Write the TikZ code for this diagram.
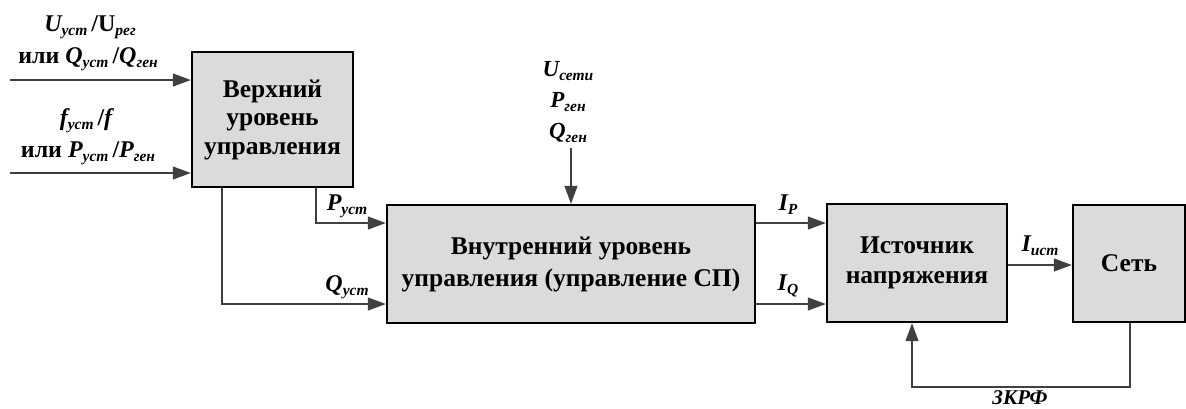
\documentclass[tikz,border=0pt]{standalone}
\usepackage{fontspec}
\setmainfont{LiberationSerif-Regular.ttf}[BoldFont=LiberationSerif-Bold.ttf,ItalicFont=LiberationSerif-Italic.ttf,BoldItalicFont=LiberationSerif-BoldItalic.ttf]
\usetikzlibrary{arrows.meta}
\newcommand{\lw}[1]{\raisebox{-0.35ex}{\fontsize{15.5}{15.5}\selectfont\bfseries\itshape #1}}
\begin{document}
\begin{tikzpicture}[x=1pt,y=-1pt,
  blk/.style={draw=black,line width=2.4pt,fill=black!14,align=center,inner sep=0pt,
    font=\fontsize{25.5}{30}\selectfont\bfseries},
  conn/.style={draw=black!75,line width=1.2pt},
  arr/.style={conn,-{Triangle[length=18pt,width=13pt]}},
  lbl/.style={align=center,inner sep=0pt,font=\fontsize{24}{31}\selectfont\bfseries\itshape}]
\useasboundingbox (0,0) rectangle (1186,408);
% blocks
\node[blk,minimum width=161pt,minimum height=135pt,font=\fontsize{25.5}{28.5}\selectfont\bfseries] (b1) at (272.5,119.5) {Верхний\\уровень\\управления};
\node[blk,minimum width=368pt,minimum height=118pt,font=\fontsize{25.5}{32}\selectfont\bfseries] (b2) at (571,264) {Внутренний уровень\\управления (управление СП)};
\node[blk,minimum width=180pt,minimum height=118pt] (b3) at (917,263) {Источник\\напряжения};
\node[blk,minimum width=112pt,minimum height=117pt] (b4) at (1129,263.5) {Сеть};
% inputs of b1
\coordinate (i1) at (10,80);
\coordinate (i2) at (10,173);
\draw[arr] (i1) -- (i1 -| b1.west);
\draw[arr] (i2) -- (i2 -| b1.west);
\node[lbl] (l1) at (90,27) {U\lw{уст}\,\upshape/U\lw{рег}};
\node[lbl] (l2) at (88,59) {\upshape или \itshape Q\lw{уст}\,\upshape/\itshape Q\lw{ген}};
\node[lbl] (l3) at (86,121) {f\lw{уст}\,\upshape/\itshape f};
\node[lbl] (l4) at (88,153) {\upshape или \itshape P\lw{уст}\,\upshape/\itshape P\lw{ген}};
% b1 -> b2
\coordinate (pc) at (316,223);
\coordinate (qc) at (222,304);
\draw[arr] (b1.south -| pc) |- (pc -| b2.west);
\draw[arr] (b1.south -| qc) |- (qc -| b2.west);
\node[lbl] (lp) at (347,206) {P\lw{уст}};
\node[lbl] (lq) at (347,287) {Q\lw{уст}};
% top input of b2
\coordinate (tc) at (571,148);
\draw[arr] (tc) -- (tc |- b2.north);
\node[lbl,font=\fontsize{23}{31}\selectfont\bfseries\itshape] (lt) at (568,102) {U\lw{сети}\\P\lw{ген}\\Q\lw{ген}};
% b2 -> b3
\coordinate (ipc) at (790,223);
\coordinate (iqc) at (790,304);
\draw[arr] (ipc -| b2.east) -- (ipc -| b3.west);
\draw[arr] (iqc -| b2.east) -- (iqc -| b3.west);
\node[lbl] (lip) at (788,205) {I\lw{P}};
\node[lbl] (liq) at (788,286) {I\lw{Q}};
% b3 -> b4
\coordinate (ic) at (1040,265);
\draw[arr] (ic -| b3.east) -- (ic -| b4.west);
\node[lbl] (lii) at (1040,246) {I\lw{ист}};
% feedback
\coordinate (fa) at (1130,387);
\coordinate (fb) at (912,387);
\draw[arr] (b4.south -| fa) -- (fa) -- (fb) -- (fb |- b3.south);
\node[lbl,font=\fontsize{21}{24}\selectfont\bfseries\itshape] (lf) at (1020,398) {ЗКРФ};
\end{tikzpicture}
\end{document}
